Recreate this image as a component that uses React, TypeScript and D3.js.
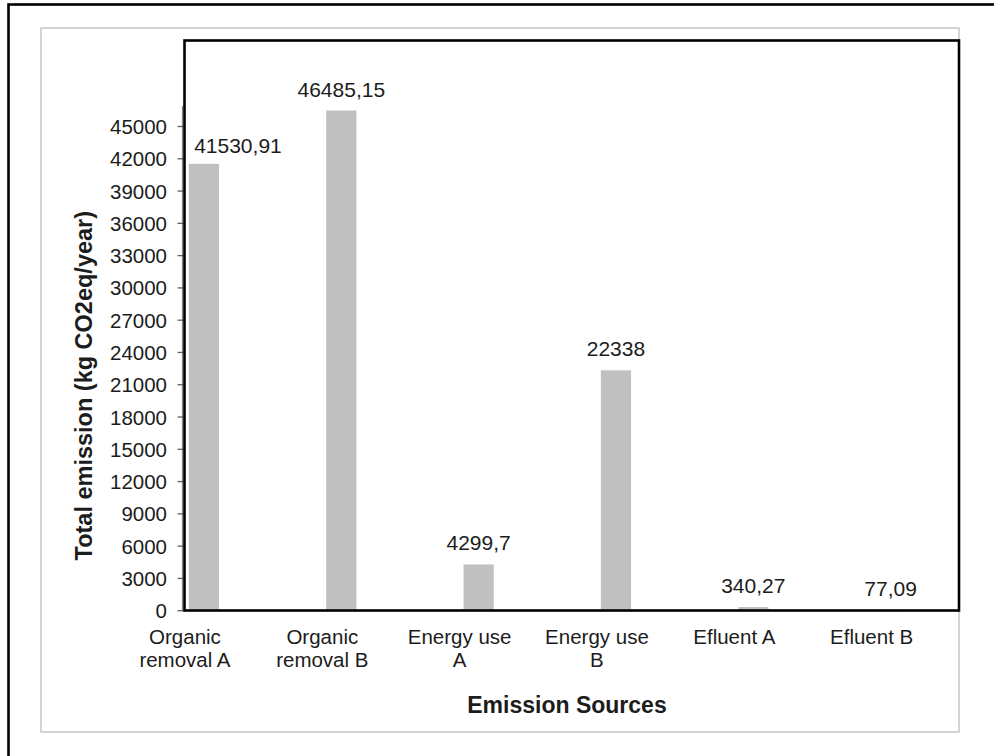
import React from "react";
import * as d3 from "d3";

const categories: string[][] = [
  ["Organic", "removal A"],
  ["Organic", "removal B"],
  ["Energy use", "A"],
  ["Energy use", "B"],
  ["Efluent A"],
  ["Efluent B"],
];
const values: number[] = [41530.91, 46485.15, 4299.7, 22338, 340.27, 77.09];
const valueLabels: string[] = ["41530,91", "46485,15", "4299,7", "22338", "340,27", "77,09"];
const yTicks: number[] = [0, 3000, 6000, 9000, 12000, 15000, 18000, 21000, 24000, 27000, 30000, 33000, 36000, 39000, 42000, 45000];

const W = 994;
const H = 756;
const FONT = "Liberation Sans, Arial, Helvetica, sans-serif";
const TEXT = "#1c1c1c";

export default function App() {
  const ids = categories.map((_, i) => String(i));
  const x = d3.scaleBand<string>().domain(ids).range([135.3, 959.3]).paddingInner(0.78).paddingOuter(0.39);
  const y = d3.scaleLinear().domain([0, 45000]).range([610.7, 126.5]);
  const bw = x.bandwidth();
  const labelShift = -19;

  return (
    <svg width={W} height={H} style={{ position: "absolute", left: 0, top: 0, background: "#fff" }} fontFamily={FONT}>
      {/* outer frame */}
      <rect x={8.5} y={4.5} width={W + 20} height={H + 20} fill="none" stroke="#000" strokeWidth={2.6} />
      {/* chart area border */}
      <rect x={41} y={28} width={918} height={704} fill="none" stroke="#c6c6c6" strokeWidth={1.5} />

      {/* y axis line and ticks */}
      <line x1={182.5} x2={182.5} y1={106} y2={611} stroke="#808080" strokeWidth={1.2} />
      {yTicks.map((t) => (
        <g key={t}>
          <line x1={177.5} x2={184} y1={y(t)} y2={y(t)} stroke="#606060" strokeWidth={1.3} />
          <text x={167} y={y(t)} textAnchor="end" dominantBaseline="central" fontSize={20.5} fill={TEXT}>
            {t}
          </text>
        </g>
      ))}

      {/* bars */}
      {values.map((v, i) => (
        <rect key={i} x={x(String(i))!} y={y(v)} width={bw} height={y(0) - y(v)} fill="#c0c0c0" />
      ))}

      {/* value labels */}
      {values.map((v, i) => {
        const cx = x(String(i))! + bw / 2 + (i === 0 ? 34 : 0);
        const by = y(v) - (i === 0 ? 11 : 14);
        return (
          <text key={i} x={cx} y={by} textAnchor="middle" fontSize={21} fill={TEXT}>
            {valueLabels[i]}
          </text>
        );
      })}

      {/* plot frame */}
      <rect x={184.5} y={40.5} width={774.5} height={570} fill="none" stroke="#000" strokeWidth={2.6} />

      {/* category labels */}
      {categories.map((lines, i) => (
        <text key={i} textAnchor="middle" fontSize={20.5} fill={TEXT}>
          {lines.map((l, j) => (
            <tspan key={j} x={x(String(i))! + bw / 2 + labelShift} y={644 + j * 22.7}>
              {l}
            </tspan>
          ))}
        </text>
      ))}

      {/* axis titles */}
      <text x={567} y={712.5} textAnchor="middle" fontSize={23} fontWeight="bold" fill={TEXT}>
        Emission Sources
      </text>
      <text
        transform="translate(92,385.7) rotate(-90)"
        textAnchor="middle"
        fontSize={23.5}
        fontWeight="bold"
        fill={TEXT}
      >
        Total emission (kg CO2eq/year)
      </text>
    </svg>
  );
}
